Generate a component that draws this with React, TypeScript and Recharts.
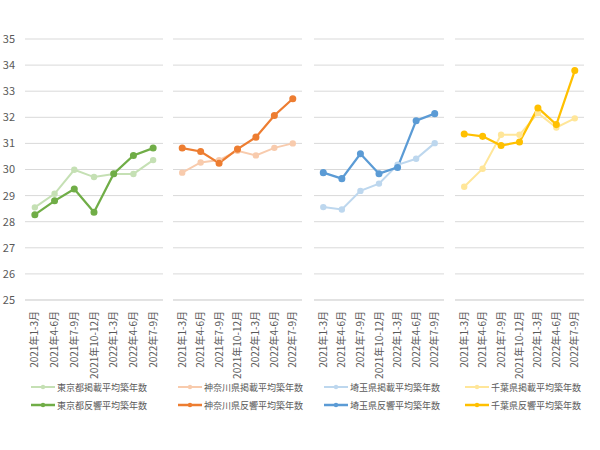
import React from 'react';
import { LineChart, Line, XAxis, YAxis, CartesianGrid } from 'recharts';

const categories = [
  '2021年1-3月',
  '2021年4-6月',
  '2021年7-9月',
  '2021年10-12月',
  '2022年1-3月',
  '2022年4-6月',
  '2022年7-9月',
];

const yTicks = [25, 26, 27, 28, 29, 30, 31, 32, 33, 34, 35];

const tokyoListed = [28.55, 29.07, 29.99, 29.71, 29.83, 29.83, 30.36];
const tokyoInquiry = [28.27, 28.8, 29.25, 28.36, 29.84, 30.54, 30.82];
const kanagawaListed = [29.88, 30.27, 30.36, 30.72, 30.54, 30.83, 31.0];
const kanagawaInquiry = [30.82, 30.69, 30.24, 30.78, 31.24, 32.07, 32.71];
const saitamaListed = [28.56, 28.47, 29.18, 29.46, 30.18, 30.41, 31.01];
const saitamaInquiry = [29.88, 29.65, 30.6, 29.84, 30.08, 31.87, 32.14];
const chibaListed = [29.34, 30.03, 31.33, 31.33, 32.16, 31.61, 31.96];
const chibaInquiry = [31.36, 31.27, 30.92, 31.05, 32.36, 31.72, 33.79];

const FONT = '"Noto Sans CJK JP", "Noto Sans", sans-serif';
const TEXT = '#595959';
const GRID = '#d9d9d9';

type PanelDef = {
  left: number;
  width: number;
  yAxis: boolean;
  listed: number[];
  inquiry: number[];
  listedName: string;
  inquiryName: string;
  light: string;
  dark: string;
  legendX: number;
};

const panels: PanelDef[] = [
  {
    left: 0, width: 163, yAxis: true, listed: tokyoListed, inquiry: tokyoInquiry,
    listedName: '東京都掲載平均築年数', inquiryName: '東京都反響平均築年数',
    light: '#C5E0B4', dark: '#70AD47', legendX: 31,
  },
  {
    left: 173, width: 129, yAxis: false, listed: kanagawaListed, inquiry: kanagawaInquiry,
    listedName: '神奈川県掲載平均築年数', inquiryName: '神奈川県反響平均築年数',
    light: '#F8CBAD', dark: '#ED7D31', legendX: 178,
  },
  {
    left: 314, width: 130, yAxis: false, listed: saitamaListed, inquiry: saitamaInquiry,
    listedName: '埼玉県掲載平均築年数', inquiryName: '埼玉県反響平均築年数',
    light: '#BDD7EE', dark: '#5B9BD5', legendX: 324,
  },
  {
    left: 455, width: 129, yAxis: false, listed: chibaListed, inquiry: chibaInquiry,
    listedName: '千葉県掲載平均築年数', inquiryName: '千葉県反響平均築年数',
    light: '#FFE699', dark: '#FFC000', legendX: 465,
  },
];

const CategoryTick = (props: any) => {
  const { x, y, payload } = props;
  return (
    <g transform={`translate(${x},${y})`}>
      <text transform="rotate(-90)" x={-3} dy="0.35em" textAnchor="end" fontSize={10} fill={TEXT} fontFamily={FONT}>
        {payload.value}
      </text>
    </g>
  );
};

const LegendItem: React.FC<{ x: number; y: number; color: string; label: string; width: number }> = ({ x, y, color, label, width }) => (
  <div style={{ position: 'absolute', left: x, top: y, display: 'flex', alignItems: 'center', height: 14 }}>
    <svg width={24} height={8} style={{ marginRight: 2 }}>
      <line x1={0} y1={4} x2={24} y2={4} stroke={color} strokeWidth={width} />
      <circle cx={12} cy={4} r={2.2} fill={color} />
    </svg>
    <span style={{ fontSize: 9, color: TEXT, fontFamily: FONT, whiteSpace: 'nowrap' }}>{label}</span>
  </div>
);

const Panel: React.FC<{ p: PanelDef }> = ({ p }) => {
  const data = categories.map((c, i) => ({ name: c, listed: p.listed[i], inquiry: p.inquiry[i] }));
  return (
    <div style={{ position: 'absolute', left: p.left, top: 0 }}>
      <LineChart width={p.width} height={380} data={data} margin={{ top: 39, right: 0, left: 0, bottom: 0 }}>
        <CartesianGrid vertical={false} stroke={GRID} />
        <XAxis
          dataKey="name"
          scale="band"
          interval={0}
          height={80}
          tick={<CategoryTick />}
          tickLine={false}
          axisLine={{ stroke: GRID }}
        />
        <YAxis
          domain={[25, 35]}
          ticks={yTicks}
          hide={!p.yAxis}
          width={25}
          axisLine={false}
          tickLine={false}
          tickMargin={4}
          tick={{ fontSize: 11, fill: TEXT, fontFamily: FONT }}
        />
        <Line
          dataKey="listed"
          name={p.listedName}
          stroke={p.light}
          strokeWidth={2}
          dot={{ r: 2.2, fill: p.light, stroke: p.light }}
          isAnimationActive={false}
        />
        <Line
          dataKey="inquiry"
          name={p.inquiryName}
          stroke={p.dark}
          strokeWidth={2.25}
          dot={{ r: 2.4, fill: p.dark, stroke: p.dark }}
          isAnimationActive={false}
        />
      </LineChart>
      <LegendItem x={p.legendX - p.left} y={380} color={p.light} label={p.listedName} width={2} />
      <LegendItem x={p.legendX - p.left} y={398} color={p.dark} label={p.inquiryName} width={2.5} />
    </div>
  );
};

export default function App() {
  return (
    <div style={{ position: 'absolute', left: 0, top: 0, width: 600, height: 450, background: '#fff' }}>
      {panels.map((p) => (
        <Panel key={p.listedName} p={p} />
      ))}
    </div>
  );
}
